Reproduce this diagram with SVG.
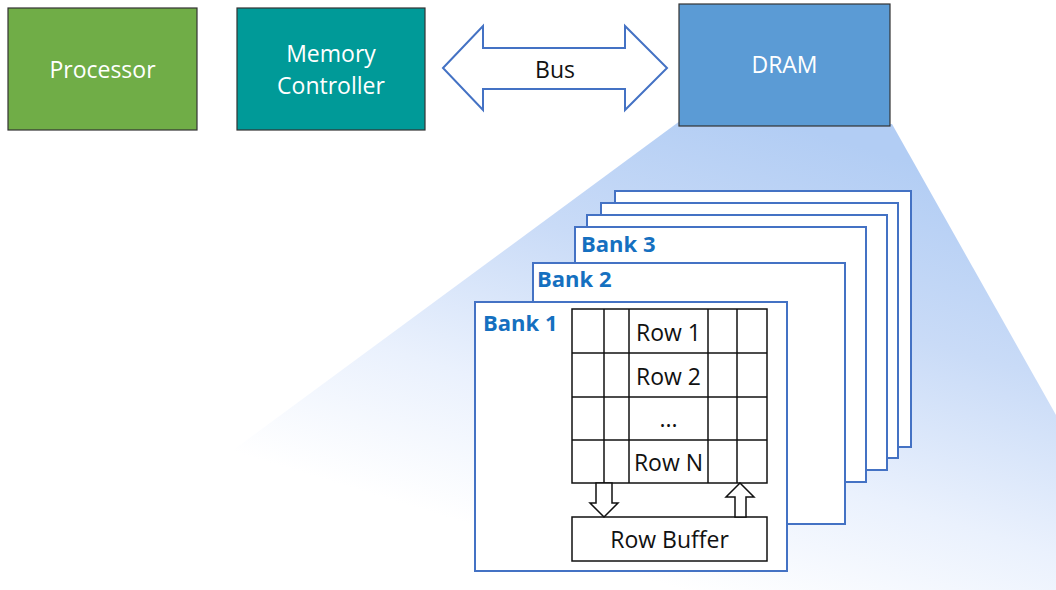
<svg xmlns="http://www.w3.org/2000/svg" width="1056" height="590" viewBox="0 0 1056 590">
  <defs>
    <linearGradient id="beam" gradientUnits="userSpaceOnUse" x1="790" y1="125" x2="650" y2="580">
      <stop offset="0" stop-color="#b2cdf4"/>
      <stop offset="0.35" stop-color="#c9dbf7"/>
      <stop offset="0.7" stop-color="#eaf1fd"/>
      <stop offset="1" stop-color="#ffffff"/>
    </linearGradient>
    <style>
      .block { stroke: #333333; stroke-width: 1.2; }
      .wtxt { font-family: "Open Sans", "Liberation Sans", sans-serif; font-size: 23px; fill: #ffffff; text-anchor: middle; }
      .btxt { font-family: "Open Sans", "Liberation Sans", sans-serif; font-size: 23px; fill: #111111; text-anchor: middle; }
      .frame { fill: #ffffff; stroke: #4472c4; stroke-width: 2; }
      .bank { font-family: "Open Sans", "Liberation Sans", sans-serif; font-size: 22px; font-weight: bold; fill: #1570c0; }
      .grid { fill: #ffffff; stroke: #111111; stroke-width: 1.5; }
      .bus { fill: #ffffff; stroke: #4472c4; stroke-width: 2; stroke-linejoin: miter; }
    </style>
  </defs>

  <rect width="1056" height="590" fill="#ffffff"/>

  <!-- zoom-out beam from the DRAM chip to its banks -->
  <polygon points="684,118 892,124 1056,415 1056,590 660,590 190,482" fill="url(#beam)"/>

  <g id="processor">
    <rect class="block" x="8" y="8" width="189" height="122" fill="#70ad47"/>
    <text class="wtxt" x="102.5" y="78">Processor</text>
  </g>

  <g id="memory-controller">
    <rect class="block" x="237" y="8" width="188" height="122" fill="#009a98"/>
    <text class="wtxt" x="331" y="62">Memory</text>
    <text class="wtxt" x="331" y="94">Controller</text>
  </g>

  <g id="dram">
    <rect class="block" x="679" y="4" width="211" height="122" fill="#5b9bd5"/>
    <text class="wtxt" x="784.5" y="73" font-size="25">DRAM</text>
  </g>

  <g id="connectors">
    <!-- bidirectional bus arrow -->
    <polygon class="bus" points="443,68 483,26 483,48 625,48 625,26 667,68 625,110 625,89 483,89 483,110"/>
    <text class="btxt" x="555" y="78" font-size="22">Bus</text>
  </g>

  <!-- stacked banks, back to front -->
  <g id="bank-6"><rect class="frame" x="615" y="191" width="296" height="256"/></g>
  <g id="bank-5"><rect class="frame" x="601" y="203" width="297" height="255"/></g>
  <g id="bank-4"><rect class="frame" x="587" y="215" width="300" height="255"/></g>
  <g id="bank-3">
    <rect class="frame" x="575" y="227" width="291" height="255"/>
    <text class="bank" x="581" y="252">Bank 3</text>
  </g>
  <g id="bank-2">
    <rect class="frame" x="533" y="263" width="312" height="261"/>
    <text class="bank" x="537" y="287">Bank 2</text>
  </g>
  <g id="bank-1">
    <rect class="frame" x="475" y="302" width="312" height="269"/>
    <text class="bank" x="483" y="331">Bank 1</text>
  </g>

  <g id="row-array">
    <rect class="grid" x="572" y="309" width="195" height="174"/>
    <g stroke="#111111" stroke-width="1.5">
      <line x1="572" y1="353" x2="767" y2="353"/>
      <line x1="572" y1="397" x2="767" y2="397"/>
      <line x1="572" y1="440" x2="767" y2="440"/>
      <line x1="604" y1="309" x2="604" y2="483"/>
      <line x1="629" y1="309" x2="629" y2="483"/>
      <line x1="708" y1="309" x2="708" y2="483"/>
      <line x1="737" y1="309" x2="737" y2="483"/>
    </g>
    <text class="btxt" x="668.5" y="341" font-size="24">Row 1</text>
    <text class="btxt" x="668.5" y="385" font-size="24">Row 2</text>
    <text class="btxt" x="668.5" y="427">...</text>
    <text class="btxt" x="668.5" y="471" font-size="24">Row N</text>
  </g>

  <g id="row-buffer">
    <rect class="grid" x="572" y="517" width="195" height="44"/>
    <text class="btxt" x="669.5" y="548" font-size="24">Row Buffer</text>
  </g>

  <g id="row-transfers">
    <polygon class="grid" points="596,483 612,483 612,503 618,503 604,517 590,503 596,503"/>
    <polygon class="grid" points="735,517 746,517 746,497 754,497 740,483 726,497 735,497"/>
  </g>
</svg>
